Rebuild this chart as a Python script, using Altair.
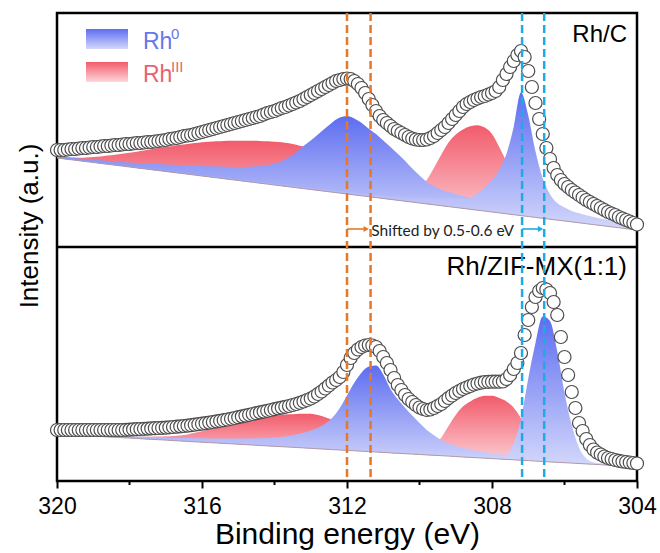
import altair as alt
import numpy as np
import pandas as pd

# ---------------- values ----------------
E_START = 320.0
STEP_DATA = 0.1      # spacing of the measured points (eV)
STEP_FIT = 0.2       # spacing of the fitted components (eV)
N_DATA = 161
N_FIT = 81
OFFSET_TOP = 234     # vertical offset of the Rh/C spectrum in the stacked plot

TICKS = [320, 316, 312, 308, 304]
MINOR_TICKS = [318, 314, 310, 306]
ORANGE_LINES = [312.0, 311.35]
BLUE_LINES = [307.17, 306.56]

# measured intensity, Rh/C (320.0 -> 304.0 eV)
rhc_counts = [
    97, 97, 97, 97.5, 98, 98, 98.5, 99, 99, 99.5,
    100, 100, 100.5, 101, 101, 101.5, 102, 102, 102.5, 103,
    103, 103.5, 104, 104, 104.5, 105, 105, 105.5, 106, 106.5,
    107, 108, 108.5, 109, 110, 111, 111.5, 112, 113, 114,
    115, 116, 117, 118, 119, 120, 121, 122, 123, 124,
    125, 126, 127, 128, 129, 130, 131, 132.5, 134, 135,
    136, 137.5, 139, 140, 141.5, 143, 144.5, 146, 148, 150,
    152, 154, 156, 158, 160, 162, 164, 166, 167, 168,
    168.5, 168, 166, 163, 159, 154, 148, 142, 136, 131,
    127, 124, 121, 118, 116, 114, 112, 110, 108.5, 107.5,
    107, 107, 107.5, 109, 111, 114, 117, 120, 124, 128,
    132, 136, 140, 143, 145, 147, 148.5, 150, 151, 152.5,
    154, 156, 160, 167, 173, 180, 186, 192, 196, 190,
    176, 160, 144, 128, 113, 99, 88, 79, 72, 67,
    63, 60, 57, 54.5, 52, 49.5, 47, 45, 43, 41,
    39, 37, 35, 33.5, 32, 30, 28.5, 27, 25.5, 24,
    22.5,
]

# measured intensity, Rh/ZIF-MX(1:1)
zif_counts = [
    51, 51, 51, 51, 51, 51, 51, 51, 51, 51,
    51, 51, 51, 51, 51, 51, 51, 51, 51, 51.2,
    51.4, 51.6, 51.8, 52, 52.2, 52.4, 52.6, 52.8, 53, 53.2,
    53.4, 53.7, 54, 54.3, 54.6, 55, 55.4, 55.8, 56.3, 56.8,
    57.3, 57.8, 58.4, 59, 59.6, 60.2, 60.8, 61.5, 62.2, 63,
    63.8, 64.6, 65.4, 66.2, 67, 67.8, 68.6, 69.4, 70.2, 71,
    71.8, 72.6, 73.4, 74.2, 75, 76, 77, 78.2, 79.5, 81,
    82.5, 84.5, 87, 89.5, 92.5, 95.5, 98.5, 101, 104, 109,
    116, 123, 128, 131.5, 134, 135.5, 136, 135.5, 134, 130,
    124, 118, 111, 103, 96, 91, 86, 82, 79, 76,
    73.5, 72, 71, 71.5, 73, 75, 77, 80, 83, 85.5,
    88, 90, 92, 93.5, 95, 96.5, 97.5, 98.3, 99, 99.2,
    99.3, 99.3, 99.3, 99.5, 102, 106, 112, 118, 128, 146,
    161, 174, 184, 190, 193, 191.5, 188, 179, 166, 144,
    124, 106, 89, 73, 58, 50, 42, 36, 31.5, 28.5,
    26.5, 24.5, 23, 22, 21, 20.2, 19.5, 19, 18.5, 18,
    17.5,
]

# background lines (320.0 -> 304.0 eV, 0.2 eV)
rhc_bg = [
    89.0, 88.1, 87.2, 86.3, 85.4, 84.5, 83.6, 82.7, 81.8, 80.9,
    80.0, 79.1, 78.2, 77.3, 76.4, 75.5, 74.6, 73.7, 72.8, 71.9,
    71.0, 70.1, 69.2, 68.3, 67.4, 66.5, 65.6, 64.7, 63.8, 62.9,
    62.0, 61.1, 60.2, 59.3, 58.4, 57.5, 56.6, 55.7, 54.8, 53.9,
    53.0, 52.1, 51.2, 50.3, 49.4, 48.5, 47.6, 46.7, 45.8, 44.9,
    44.0, 43.1, 42.2, 41.3, 40.4, 39.5, 38.6, 37.7, 36.8, 35.9,
    35.0, 34.1, 33.2, 32.3, 31.4, 30.5, 29.6, 28.7, 27.8, 26.9,
    26.0, 25.1, 24.2, 23.3, 22.4, 21.5, 20.6, 19.7, 18.8, 17.9,
    17.0,
]
zif_bg = [
    47.0, 46.6, 46.2, 45.8, 45.4, 45.0, 44.5, 44.1, 43.7, 43.3,
    42.9, 42.5, 42.1, 41.7, 41.3, 40.9, 40.4, 40.0, 39.6, 39.2,
    38.8, 38.4, 38.0, 37.6, 37.2, 36.8, 36.3, 35.9, 35.5, 35.1,
    34.7, 34.3, 33.9, 33.5, 33.1, 32.7, 32.2, 31.8, 31.4, 31.0,
    30.6, 30.2, 29.8, 29.4, 29.0, 28.6, 28.1, 27.7, 27.3, 26.9,
    26.5, 26.1, 25.7, 25.3, 24.9, 24.5, 24.0, 23.6, 23.2, 22.8,
    22.4, 22.0, 21.6, 21.2, 20.8, 20.4, 19.9, 19.5, 19.1, 18.7,
    18.3, 17.9, 17.5, 17.1, 16.7, 16.3, 15.8, 15.4, 15.0, 14.6,
    14.2,
]

# fitted components, height above background (320.0 -> 304.0 eV, 0.2 eV)
rhc_rh0_32 = [
    1.5, 1.8, 2.0, 2.3, 2.6, 2.9, 3.2, 3.5, 3.8, 4.2,
    4.6, 5.0, 5.5, 6.0, 6.5, 7.0, 7.6, 8.2, 8.8, 9.4,
    10.0, 10.6, 11.3, 12.0, 12.7, 13.5, 14.5, 15.7, 17.2, 19.0,
    21.5, 25.0, 29.5, 35.5, 42.5, 49.0, 56.0, 63.0, 70.0, 75.5,
    78.0, 76.5, 73.0, 68.0, 63.5, 58.0, 52.5, 46.5, 40.5, 33.5,
    27.5, 22.0, 18.5, 16.0, 14.5, 13.3, 12.3, 11.4, 10.6, 9.9,
    9.2, 8.6, 8.0, 7.5, 7.0, 6.5, 6.0, 5.6, 5.2, 4.8,
    4.4, 4.1, 3.8, 3.5, 3.2, 3.0, 2.8, 2.6, 2.4, 2.2,
    2.0,
]
rhc_rh0_52 = [
    0.5, 0.5, 0.5, 0.5, 0.5, 0.5, 0.6, 0.6, 0.6, 0.6,
    0.6, 0.7, 0.7, 0.7, 0.7, 0.8, 0.8, 0.8, 0.9, 0.9,
    0.9, 1.0, 1.0, 1.0, 1.1, 1.1, 1.1, 1.2, 1.2, 1.3,
    1.3, 1.3, 1.4, 1.4, 1.5, 1.5, 1.6, 1.6, 1.7, 1.8,
    1.9, 2.0, 2.1, 2.3, 2.5, 2.7, 3.0, 3.4, 3.8, 4.3,
    4.9, 5.6, 6.4, 7.3, 8.3, 9.3, 10.3, 11.5, 17.0, 24.0,
    32.0, 43.0, 60.0, 88.0, 123.0, 101.0, 66.0, 40.0, 25.0, 17.0,
    13.5, 11.0, 9.5, 8.5, 7.7, 7.0, 6.5, 6.0, 5.5, 5.0,
    4.7,
]
rhc_rh3_32 = [
    1.0, 1.5, 2.2, 3.0, 4.2, 5.5, 7.0, 8.7, 10.5, 12.3,
    14.2, 16.2, 18.3, 20.4, 22.5, 24.5, 26.5, 28.5, 30.3, 32.0,
    33.7, 35.2, 36.6, 37.8, 38.9, 39.8, 40.7, 41.5, 42.2, 42.8,
    43.3, 43.6, 43.6, 43.0, 42.0, 40.5, 38.6, 36.4, 34.0, 31.3,
    28.5, 25.2, 21.8, 18.5, 15.4, 12.5, 9.9, 7.7, 5.8, 4.3,
    3.1, 2.2, 1.5, 1.0, 0.7, 0.4, 0.2, 0, 0, 0,
    0, 0, 0, 0, 0, 0, 0, 0, 0, 0,
    0, 0, 0, 0, 0, 0, 0, 0, 0, 0,
    0,
]
rhc_rh3_52 = [
    0, 0, 0, 0, 0, 0, 0, 0, 0, 0,
    0, 0, 0, 0, 0, 0, 0, 0, 0, 0,
    0, 0, 0, 0, 0, 0, 0, 0, 0, 0,
    0, 0, 0, 0, 0, 0, 0, 0, 0, 0,
    0, 0, 0, 0, 0.6, 1.0, 2.0, 4.0, 7.5, 12.5,
    18.0, 24.0, 37.0, 51.0, 64.0, 73.0, 79.0, 83.0, 85.0, 83.5,
    78.0, 66.0, 52.0, 38.0, 26.0, 16.0, 10.0, 6.0, 3.5, 2.0,
    1.2, 0.7, 0.4, 0, 0, 0, 0, 0, 0, 0,
    0,
]

zif_rh0_32 = [
    0.7, 0.8, 0.9, 1.0, 1.1, 1.2, 1.3, 1.4, 1.5, 1.6,
    1.7, 1.9, 2.1, 2.3, 2.5, 2.7, 2.9, 3.1, 3.3, 3.6,
    3.9, 4.2, 4.5, 4.9, 5.3, 5.7, 6.2, 6.7, 7.3, 8.0,
    8.8, 9.8, 11.2, 13.0, 15.2, 17.8, 21.0, 25.5, 32.0, 42.0,
    55.0, 68.0, 78.5, 85.0, 86.5, 78.0, 64.0, 54.0, 46.0, 38.5,
    31.5, 25.0, 20.0, 15.8, 12.7, 10.5, 9.0, 7.8, 6.8, 6.0,
    5.3, 4.8, 4.3, 3.9, 3.5, 3.2, 2.9, 2.6, 2.4, 2.2,
    2.0, 1.8, 1.6, 1.4, 1.3, 1.2, 1.1, 1.0, 0.9, 0.8,
    0.7,
]
zif_rh0_52 = [
    0.2, 0.2, 0.2, 0.2, 0.2, 0.2, 0.2, 0.2, 0.2, 0.2,
    0.2, 0.2, 0.2, 0.2, 0.2, 0.2, 0.2, 0.2, 0.2, 0.2,
    0.2, 0.2, 0.2, 0.2, 0.2, 0.2, 0.2, 0.2, 0.2, 0.2,
    0.2, 0.2, 0.2, 0.2, 0.2, 0.2, 0.2, 0.2, 0.2, 0.2,
    0.3, 0.3, 0.3, 0.3, 0.3, 0.3, 0.3, 0.3, 0.3, 0.3,
    0.4, 0.4, 0.5, 0.5, 0.6, 0.7, 0.8, 0.9, 1.1, 1.3,
    1.6, 2.5, 5.0, 17.0, 41.0, 82.0, 118.0, 145.0, 141.0, 111.0,
    70.0, 38.0, 16.0, 5.5, 2.0, 1.0, 0.7, 0.5, 0.4, 0.3,
    0.3,
]
zif_rh3_32 = [
    0.2, 0.3, 0.4, 0.5, 0.6, 0.7, 0.8, 0.9, 1.0, 1.2,
    1.4, 1.7, 2.1, 2.6, 3.1, 3.8, 4.6, 5.6, 7.0, 9.0,
    11.0, 13.0, 15.0, 17.0, 19.2, 21.4, 23.5, 25.6, 27.4, 29.0,
    30.5, 31.8, 32.8, 33.6, 34.2, 34.5, 33.8, 32.0, 29.5, 26.5,
    23.0, 19.5, 16.5, 13.5, 11.0, 8.7, 6.8, 5.2, 4.0, 3.0,
    2.2, 1.6, 1.1, 0.8, 0.5, 0.3, 0, 0, 0, 0,
    0, 0, 0, 0, 0, 0, 0, 0, 0, 0,
    0, 0, 0, 0, 0, 0, 0, 0, 0, 0,
    0,
]
zif_rh3_52 = [
    0, 0, 0, 0, 0, 0, 0, 0, 0, 0,
    0, 0, 0, 0, 0, 0, 0, 0, 0, 0,
    0, 0, 0, 0, 0, 0, 0, 0, 0, 0,
    0, 0, 0, 0, 0, 0, 0, 0, 0, 0,
    0, 0, 0, 0, 0, 0.3, 0.6, 1.2, 2.2, 3.8,
    6.0, 8.5, 11.0, 18.0, 30.0, 41.5, 50.5, 56.0, 60.0, 62.5,
    62.8, 61.0, 58.0, 52.0, 42.0, 30.0, 19.0, 11.0, 6.0, 3.0,
    1.5, 0.7, 0.3, 0, 0, 0, 0, 0, 0, 0,
    0,
]

# ---------------- tables ----------------
e_data = np.round(E_START - STEP_DATA * np.arange(N_DATA), 2)
e_fit = np.round(E_START - STEP_FIT * np.arange(N_FIT), 2)

pts = pd.DataFrame({
    "E": np.concatenate([e_data, e_data]),
    "I": np.concatenate([np.array(rhc_counts) + OFFSET_TOP, np.array(zif_counts)]),
})

rows = []
for panel, off, bg, comps in [
    ("rhc", OFFSET_TOP, rhc_bg, {"rh0_32": rhc_rh0_32, "rh0_52": rhc_rh0_52,
                                 "rh3_32": rhc_rh3_32, "rh3_52": rhc_rh3_52}),
    ("zif", 0, zif_bg, {"rh0_32": zif_rh0_32, "rh0_52": zif_rh0_52,
                        "rh3_32": zif_rh3_32, "rh3_52": zif_rh3_52}),
]:
    bg = np.array(bg)
    for name, h in comps.items():
        h = np.array(h)
        assert len(h) == N_FIT
        rows.append(pd.DataFrame({
            "E": e_fit,
            "top": bg + h + off,
            "base": bg + off,
            "key": panel + "_" + name,
            "kind": "red" if name.startswith("rh3") else "blue",
        }))
comp = pd.concat(rows, ignore_index=True)
bgdf = comp[comp["key"].str.endswith("rh0_32")].copy()

# ---------------- styling ----------------
FONT = "Liberation Sans"
BLUE_GRAD = {"gradient": "linear", "x1": 0, "y1": 0, "x2": 0, "y2": 1,
             "stops": [{"offset": 0, "color": "#5d6df0"},
                       {"offset": 1, "color": "#d4d8fb"}]}
RED_GRAD = {"gradient": "linear", "x1": 0, "y1": 0, "x2": 0, "y2": 1,
            "stops": [{"offset": 0, "color": "#f25b6b"},
                      {"offset": 1, "color": "#fdd6db"}]}
ORANGE = "#E67828"
CYAN = "#1EAAE6"

xscale = alt.Scale(domain=[304, 320], reverse=True, nice=False, zero=False)
yscale = alt.Scale(domain=[0, 468], nice=False, zero=False)
xaxis = alt.Axis(values=TICKS, format="d", grid=False, domain=False,
                 labelFont=FONT, labelFontSize=23, labelColor="black",
                 labelFlush=False, labelPadding=7,
                 tickSize=7, tickWidth=2, tickColor="black",
                 title="Binding energy (eV)", titleFont=FONT, titleFontSize=30,
                 titleFontWeight="normal", titleColor="black", titlePadding=1)
X = alt.X("E:Q", scale=xscale, axis=xaxis)

red = alt.Chart(comp[comp["kind"] == "red"]).mark_area(
    interpolate="monotone", fill=RED_GRAD).encode(
    x=X, y=alt.Y("top:Q", scale=yscale, axis=None), y2="base:Q", detail="key:N")
blue = alt.Chart(comp[comp["kind"] == "blue"]).mark_area(
    interpolate="monotone", fill=BLUE_GRAD).encode(
    x=X, y=alt.Y("top:Q", scale=yscale, axis=None), y2="base:Q", detail="key:N")
bgline = alt.Chart(bgdf).mark_line(color="#b29aa6", strokeWidth=1).encode(
    x=X, y=alt.Y("base:Q", scale=yscale, axis=None), detail="key:N")

points = alt.Chart(pts).mark_point(
    shape="circle", filled=True, fill="white", stroke="#4d4d4d",
    strokeWidth=1.2, size=170, opacity=1).encode(
    x=X, y=alt.Y("I:Q", scale=yscale, axis=None))

divider = alt.Chart(pd.DataFrame({"I": [OFFSET_TOP]})).mark_rule(
    color="black", strokeWidth=2.5).encode(y=alt.Y("I:Q", scale=yscale, axis=None))

minor = alt.Chart(pd.DataFrame({"E": MINOR_TICKS})).mark_rule(
    color="black", strokeWidth=2).encode(x=X, y=alt.value(468), y2=alt.value(472))

vlines = alt.Chart(pd.DataFrame({
    "E": ORANGE_LINES + BLUE_LINES,
    "c": [ORANGE, ORANGE, CYAN, CYAN]})).mark_rule(
    strokeDash=[8, 4], strokeWidth=2.5).encode(
    x=X, y=alt.value(0), y2=alt.value(468), color=alt.Color("c:N", scale=None))

arrows_df = pd.DataFrame({"E": [312.0, 307.17], "E2": [311.47, 306.66],
                          "I": [252, 252], "c": [ORANGE, CYAN]})
arrow_lines = alt.Chart(arrows_df).mark_rule(strokeWidth=1.6).encode(
    x=X, x2="E2:Q", y=alt.Y("I:Q", scale=yscale, axis=None),
    color=alt.Color("c:N", scale=None))
arrow_heads = alt.Chart(arrows_df).mark_point(
    shape="triangle-right", filled=True, size=38, opacity=1).encode(
    x=alt.X("E2:Q", scale=xscale, axis=xaxis), y=alt.Y("I:Q", scale=yscale, axis=None),
    color=alt.Color("c:N", scale=None))

shift_text = alt.Chart(pd.DataFrame({"E": [311.33], "I": [250],
                                     "t": ["Shifted by 0.5-0.6 eV"]})).mark_text(
    align="left", baseline="middle", font="Lato", fontSize=15.5, color="#222222").encode(
    x=X, y=alt.Y("I:Q", scale=yscale, axis=None), text="t:N")


def px_text(t, x, y, size, color="black", align="left", angle=0, font=FONT):
    return alt.Chart(pd.DataFrame({"t": [t]})).mark_text(
        align=align, baseline="alphabetic", font=font, fontSize=size,
        color=color, angle=angle).encode(
        text="t:N", x=alt.value(x), y=alt.value(y))


def px_rect(x, y, w, h, grad):
    return alt.Chart(pd.DataFrame({"a": [0]})).mark_rect(fill=grad).encode(
        x=alt.value(x), x2=alt.value(x + w), y=alt.value(y), y2=alt.value(y + h))


legend = [
    px_rect(29, 16, 42, 20, BLUE_GRAD),
    px_rect(29, 49, 42, 20, RED_GRAD),
    px_text("Rh", 86, 36, 23, "#6677e8"),
    px_text("0", 114, 26, 15, "#6677e8"),
    px_text("Rh", 86, 69, 23, "#ea6170"),
    px_text("III", 114, 59, 15, "#ea6170"),
]
labels = [
    px_text("Rh/C", 570, 29, 24, align="right"),
    px_text("Rh/ZIF-MX(1:1)", 570, 262, 26, align="right"),
    px_text("Intensity (a.u.)", -19, 213, 26, align="center", angle=270),
]

chart = alt.layer(
    red, blue, bgline, points, divider, minor, *labels, vlines,
    arrow_lines, arrow_heads, shift_text, *legend,
).properties(
    width=580, height=468,
    padding={"left": 57, "top": 13, "right": 23, "bottom": 72},
    autosize="none",
).configure_view(stroke="black", strokeWidth=2.5)

chart.save("out.html", embed_options={"renderer": "svg", "actions": False})
